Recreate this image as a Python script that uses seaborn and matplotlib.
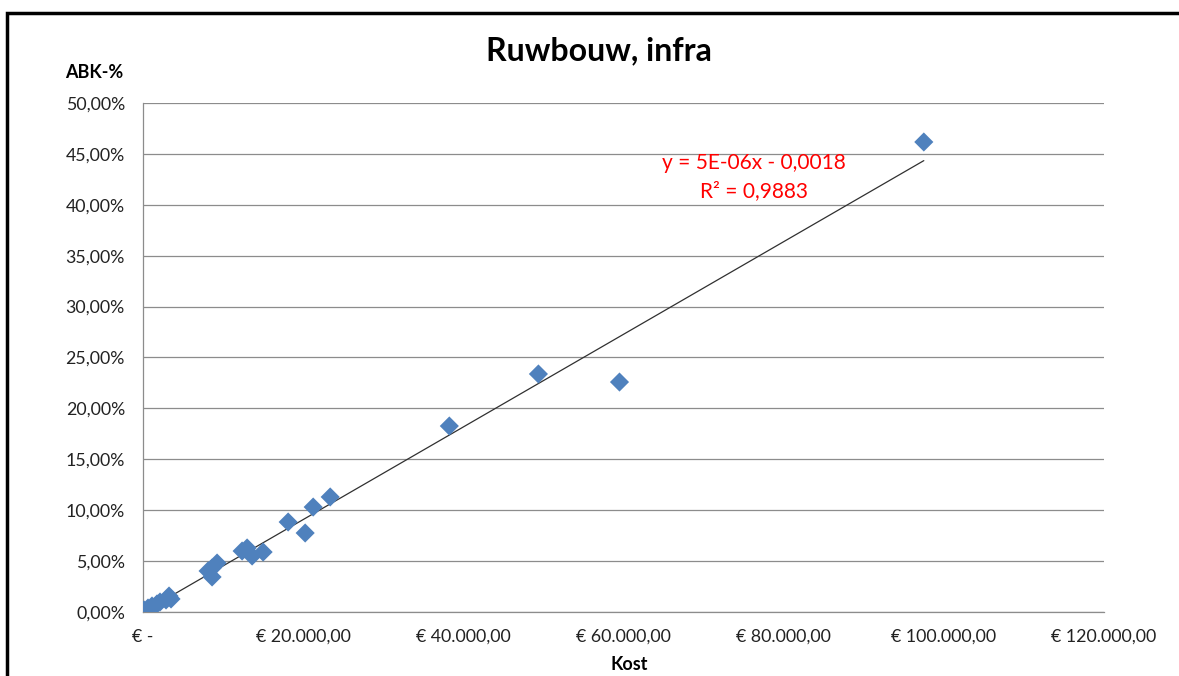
import numpy as np
import pandas as pd
import matplotlib
matplotlib.use("Agg")
import matplotlib.pyplot as plt
import seaborn as sns
from matplotlib.ticker import FuncFormatter, MultipleLocator
from matplotlib.patches import Rectangle

# Kost (euro) en ABK-% per project
kost = [97500, 59500, 49375, 38250, 23375, 21250, 18125, 20250, 15000, 13625,
        13000, 12375, 9250, 8625, 8125, 8625, 3250, 2875, 3500, 2125,
        1750, 1125, 625, 125, 100]
abk = [0.4617, 0.2259, 0.2338, 0.1827, 0.1130, 0.1031, 0.0884, 0.0776, 0.0589, 0.0550,
       0.0629, 0.0599, 0.0481, 0.0432, 0.0403, 0.0344, 0.0157, 0.0118, 0.0128, 0.0098,
       0.0079, 0.0059, 0.0039, 0.0020, 0.0005]

df = pd.DataFrame({"Kost": kost, "ABK": abk})

sns.set_style("white")
plt.rcParams['font.family'] = ['Lato', 'DejaVu Sans']

fig = plt.figure(figsize=(11.79, 6.76), dpi=100)
ax = fig.add_axes([143/1179, 1 - 612/676, (1104 - 143)/1179, (612 - 103)/676])

# trendlijn
coef = np.polyfit(df["Kost"], df["ABK"], 1)
xs = np.array([df["Kost"].min(), df["Kost"].max()])
ax.plot(xs, np.polyval(coef, xs), color="#303030", lw=0.9, zorder=2)

sns.scatterplot(data=df, x="Kost", y="ABK", marker="D", s=95, color="#4F81BD",
                edgecolor="none", ax=ax, zorder=3)

ax.set_xlim(0, 120000)
ax.set_ylim(0, 0.5)
ax.xaxis.set_major_locator(MultipleLocator(20000))
ax.yaxis.set_major_locator(MultipleLocator(0.05))

def euro(v, pos):
    if v == 0:
        return "€ -"
    return "€ " + f"{v:,.2f}".replace(",", "X").replace(".", ",").replace("X", ".")

ax.xaxis.set_major_formatter(FuncFormatter(euro))
ax.yaxis.set_major_formatter(FuncFormatter(lambda v, p: f"{v*100:.2f}%".replace(".", ",")))

ax.grid(axis="y", color="#8c8c8c", lw=0.9)
ax.set_axisbelow(True)
for s in ["top", "right"]:
    ax.spines[s].set_visible(False)
for s in ["left", "bottom"]:
    ax.spines[s].set_color("#8c8c8c")
    ax.spines[s].set_linewidth(0.9)
ax.tick_params(axis="both", length=5, width=0.9, color="#8c8c8c", labelsize=12.8,
               labelcolor="#222222", direction="out")
ax.tick_params(axis="x", pad=7)
ax.tick_params(axis="y", pad=8)
ax.set_xlabel("")
ax.set_ylabel("")

fig.text(599/1179, 1 - 51/676, "Ruwbouw, infra",
         ha="center", va="center", fontsize=23, fontweight="bold", color="black")
fig.text(65/1179, 1 - 73/676, "ABK-%", ha="left", va="center", fontsize=13,
         fontweight="bold", color="black")
fig.text(629/1179, 1 - 665/676, "Kost", ha="center", va="center", fontsize=13,
         fontweight="bold", color="black")

fig.text(754/1179, 1 - 163/676, "y = 5E-06x - 0,0018", ha="center", va="center",
         fontsize=15, color="red")
fig.text(754/1179, 1 - 191/676, "R² = 0,9883", ha="center", va="center",
         fontsize=15, color="red")

# kader rond de grafiek
fig.patches.append(Rectangle((7/1179, -0.1), 2, 1.1 - 13.5/676, transform=fig.transFigure,
                             fill=False, edgecolor="black", lw=2.5))

fig.savefig("out.png", dpi=100)
